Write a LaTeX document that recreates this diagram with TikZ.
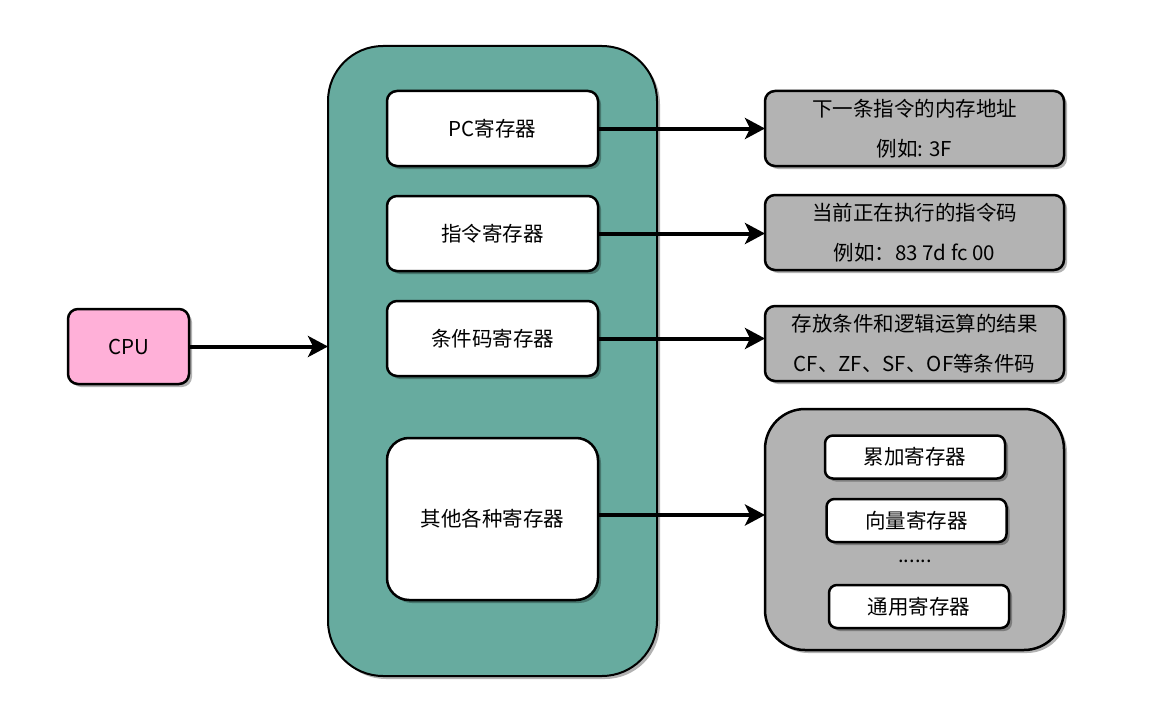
\documentclass[tikz,border=0pt]{standalone}
\usepackage{fontspec}
\setmainfont{Noto Sans CJK SC}
\usetikzlibrary{arrows.meta,shadows}
\definecolor{tealfill}{HTML}{67AB9F}
\definecolor{pinkfill}{HTML}{FFB0D8}
\definecolor{grayfill}{HTML}{B3B3B3}
\tikzset{
  sh/.style={drop shadow={shadow xshift=3pt,shadow yshift=-3pt,opacity=0.3,fill=black}},
  boxbase/.style={draw=black,line width=2.5pt,inner sep=0pt,outer sep=0pt,
    font=\fontsize{20.5}{40}\selectfont,align=center,sh},
  regbox/.style={boxbase,fill=white,rounded corners=10pt,minimum width=211pt,minimum height=75pt},
  infobox/.style={boxbase,fill=grayfill,rounded corners=10pt,minimum width=299pt,minimum height=75pt},
  smallbox/.style={boxbase,fill=white,rounded corners=8pt,minimum width=180pt,minimum height=43pt},
  arr/.style={line width=4pt,-{Stealth[length=20pt,width=21pt,inset=5pt]}},
}
\begin{document}
\begin{tikzpicture}[x=1pt,y=-1pt]
\useasboundingbox (0,0) rectangle (1157,709);
\node[boxbase,fill=pinkfill,rounded corners=10pt,minimum width=121pt,minimum height=75pt] (cpu) at (128.5,346.5) {CPU};
\node[boxbase,fill=tealfill,line width=2pt,rounded corners=55pt,minimum width=329pt,minimum height=630pt] (main) at (492.5,361) {};
\node[regbox] (pc) at (492.5,128.5) {PC寄存器};
\node[regbox] (ins) at (492.5,233.5) {指令寄存器};
\node[regbox] (cond) at (492.5,338.5) {条件码寄存器};
\node[regbox,rounded corners=22pt,minimum height=162pt] (other) at (492.5,519) {其他各种寄存器};
\node[infobox] (g1) at (914.5,128.5) {下一条指令的内存地址\\例如: 3F};
\node[infobox] (g2) at (914.5,232.5) {当前正在执行的指令码\\例如：83 7d fc 00};
\node[infobox] (g3) at (914.5,343.5) {存放条件和逻辑运算的结果\\CF、ZF、SF、OF等条件码};
\node[infobox,rounded corners=40pt,minimum height=241pt] (g4) at (914.5,529.5) {};
\node[smallbox] (acc) at (915,457) {累加寄存器};
\node[smallbox] (vec) at (916.5,520.5) {向量寄存器};
\node[font=\fontsize{20}{24}\selectfont,inner sep=0pt] (dots) at (915,561) {......};
\node[smallbox] (gen) at (919,606.5) {通用寄存器};
\draw[arr] (cpu.east) -- (cpu.east -| main.west);
\draw[arr] (pc.east) -- (pc.east -| g1.west);
\draw[arr] (ins.east) -- (ins.east -| g2.west);
\draw[arr] (cond.east) -- (cond.east -| g3.west);
\draw[arr] ([yshift=4pt]other.east) -- ([yshift=4pt]other.east -| g4.west);
\end{tikzpicture}
\end{document}
